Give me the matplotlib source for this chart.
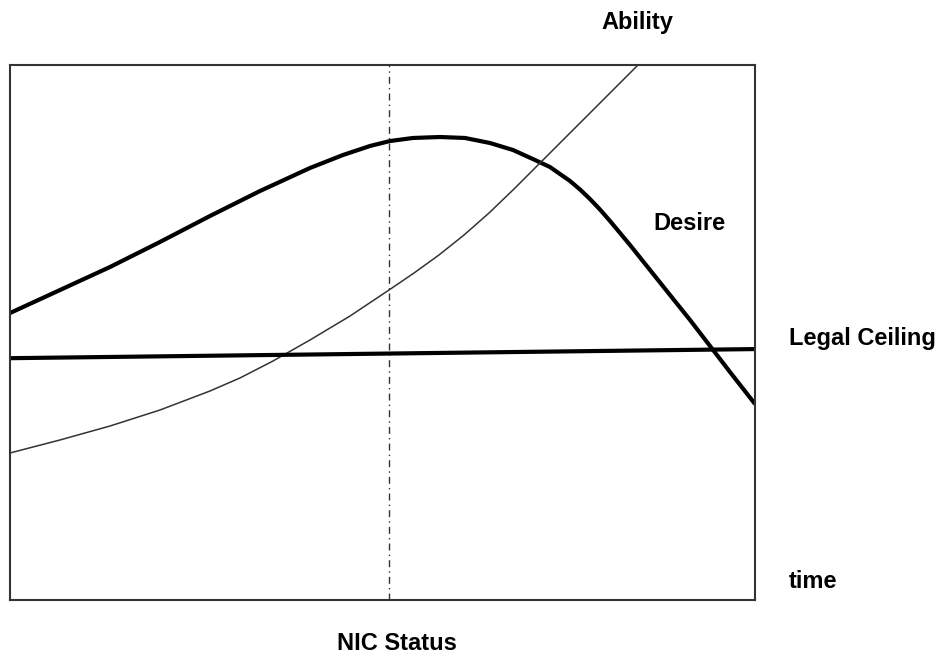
import matplotlib
matplotlib.use('Agg')
import matplotlib.pyplot as plt

# Values (time 0-100, level 0-100)
desireTime = [0, 6.71, 13.42, 20.13, 26.85, 33.56, 40.27, 44.70, 48.32, 51.01, 54.09, 57.72, 61.07, 64.43,
              67.52, 70.47, 72.48, 75.17, 76.51, 77.85, 79.19, 80.54, 83.22, 85.91, 88.59, 91.28, 93.96, 96.64, 100]
desireLevel = [53.64, 57.94, 62.24, 66.92, 71.78, 76.45, 80.75, 83.18, 84.86, 85.79, 86.36, 86.54, 86.36, 85.42,
               84.11, 82.24, 80.93, 78.32, 76.73, 74.95, 72.99, 70.84, 66.36, 61.68, 57.01, 52.34, 47.48, 42.62, 36.64]

abilityTime = [0, 6.71, 13.42, 20.13, 26.85, 30.87, 35.30, 40.27, 45.64, 50.87,
               54.23, 57.58, 60.94, 64.30, 67.65, 71.01, 74.36, 77.72, 81.07, 84.43]
abilityLevel = [27.48, 29.91, 32.52, 35.51, 39.07, 41.50, 44.67, 48.60, 53.08, 57.94,
                61.12, 64.49, 68.22, 72.34, 76.82, 81.50, 86.17, 90.84, 95.51, 100.19]

ceilingTime = [0, 100]
ceilingLevel = [45.2, 46.9]

nicStatusTime = 50.9

fig = plt.figure(figsize=(9.42, 6.56), dpi=100)
ax = fig.add_axes([10 / 942, 56 / 656, 745 / 942, 535 / 656])

ax.plot(desireTime, desireLevel, color='black', linewidth=3, solid_joinstyle='round', solid_capstyle='butt')
ax.plot(abilityTime, abilityLevel, color='#333333', linewidth=1.1, solid_joinstyle='round')
ax.plot(ceilingTime, ceilingLevel, color='black', linewidth=3)
ax.axvline(nicStatusTime, color='#333333', linewidth=1, linestyle=(0, (5, 3, 1, 3)))

ax.set_xlim(0, 100)
ax.set_ylim(0, 100)
ax.set_xticks([])
ax.set_yticks([])
for spine in ax.spines.values():
    spine.set_linewidth(1.5)
    spine.set_color('#333333')

labelFont = dict(family='Liberation Sans', fontweight='bold', fontsize=17, ha='center', va='center')
fig.text(637 / 942, 1 - 22 / 656, 'Ability', **labelFont)
fig.text(689 / 942, 1 - 223 / 656, 'Desire', **labelFont)
fig.text(862 / 942, 1 - 339 / 656, 'Legal Ceiling', **labelFont)
fig.text(813 / 942, 1 - 581 / 656, 'time', **labelFont)
fig.text(397 / 942, 1 - 643 / 656, 'NIC Status', **labelFont)

fig.savefig('out.png', dpi=100)
